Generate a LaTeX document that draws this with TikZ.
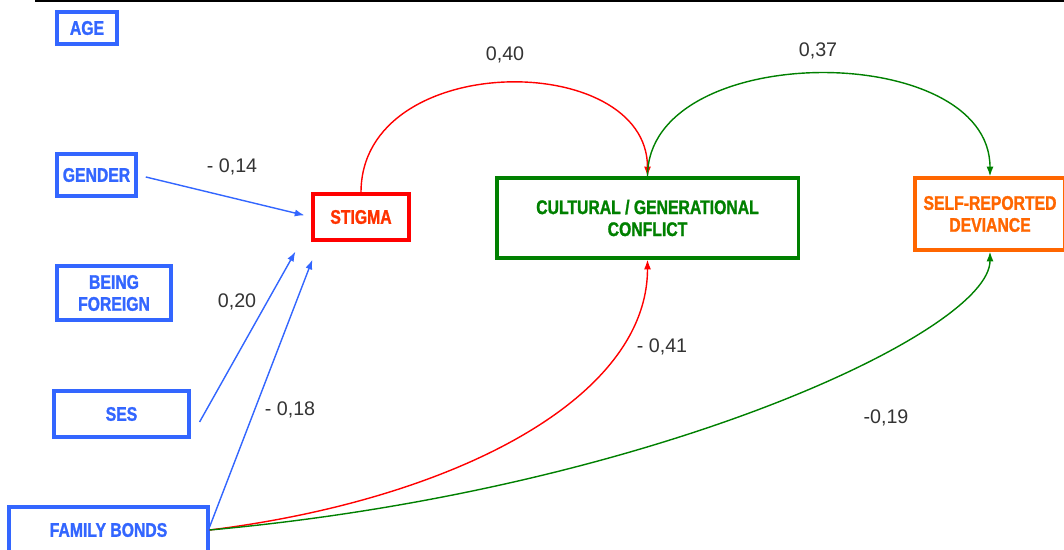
\documentclass[tikz,border=0pt]{standalone}
\usepackage{fontspec}
\setmainfont{Liberation Sans}
\newfontfamily\boxfont[FakeStretch=0.8, BoldFeatures={FakeBold=1.3}]{Liberation Sans}
\usepackage{xcolor}
\usetikzlibrary{calc, arrows.meta}
\definecolor{varblue}{RGB}{51,102,255}
\definecolor{stigred}{RGB}{255,0,0}
\definecolor{stigtext}{RGB}{255,51,0}
\definecolor{conflgreen}{RGB}{0,128,0}
\definecolor{devorange}{RGB}{255,102,0}
\definecolor{coefgray}{RGB}{51,51,51}
\tikzset{
    % boxes for the variables
    var/.style={
        draw=#1, line width=2.2pt, fill=white, inner sep=0pt, align=center,
        font=\boxfont\bfseries\fontsize{14}{15.6}\selectfont
    },
    % path coefficients
    coef/.style={
        text=coefgray, inner sep=0pt,
        font=\fontsize{14}{16}\selectfont
    },
    % effect arrows
    link/.style={
        draw=#1, line width=1pt,
        -{Latex[length=7pt,width=5pt]}
    }
}

\begin{document}
\begin{tikzpicture}[x=0.025cm, y=-0.025cm]
    \useasboundingbox (0,0) rectangle (1064,550);
    \draw[line width=1.5pt] (35,1) -- (1064,1);

    % exogenous variables
    \node[var=varblue, text=varblue, minimum width=1.5cm, minimum height=0.8cm] (age) at (87,28) {AGE};
    \node[var=varblue, text=varblue, minimum width=1.975cm, minimum height=1.05cm] (gender) at (96.5,175) {GENDER};
    \node[var=varblue, text=varblue, minimum width=2.85cm, minimum height=1.35cm] (foreign) at (114,293) {BEING\\FOREIGN};
    \node[var=varblue, text=varblue, minimum width=3.375cm, minimum height=1.15cm] (ses) at (121.5,414) {SES};
    \node[var=varblue, text=varblue, minimum width=4.975cm, minimum height=1.15cm] (family) at (108.5,530) {FAMILY BONDS};

    % endogenous variables
    \node[var=stigred, text=stigtext, minimum width=2.4cm, minimum height=1.15cm] (stigma) at (361,217) {STIGMA};
    \node[var=conflgreen, text=conflgreen, minimum width=7.525cm, minimum height=2cm] (conflict) at (647.5,218) {CULTURAL / GENERATIONAL\\CONFLICT};
    \node[var=devorange, text=devorange, minimum width=3.75cm, minimum height=1.8cm] (deviance) at (990,214) {SELF-REPORTED\\DEVIANCE};

    \begin{scope}
        \draw[link=varblue, shorten <=6pt, shorten >=5pt] (gender.east) -- (stigma.west);
        \draw[link=varblue] ([shift={(9,8)}]ses.east) -- ([shift={(-16,10)}]stigma.south west);
        \draw[link=varblue] ([shift={(0,-3)}]family.east) -- ([shift={(1,18)}]stigma.south west);

        \draw[link=stigred] (stigma.north) .. controls +(0,-143) and +(0,-127) .. (conflict.north);
        \draw[link=conflgreen] (conflict.north) .. controls +(0,-137) and +(0,-137) .. (deviance.north);

        \draw[link=stigred] (family.east) .. controls +(242,-30) and +(0,140) .. (conflict.south);
        \draw[link=conflgreen] (family.east) .. controls +(442,-40) and +(0,80) .. (deviance.south);
    \end{scope}

    \node[coef] (cGender) at (232,167) {- 0,14};
    \node[coef] (cSes) at (237,302) {0,20};
    \node[coef] (cFamily) at (290,410) {- 0,18};
    \node[coef] (cStigma) at (505,55) {0,40};
    \node[coef] (cConflict) at (818,51) {0,37};
    \node[coef] (cFamConfl) at (662,347) {- 0,41};
    \node[coef] (cFamDev) at (886,418) {-0,19};
\end{tikzpicture}
\end{document}
